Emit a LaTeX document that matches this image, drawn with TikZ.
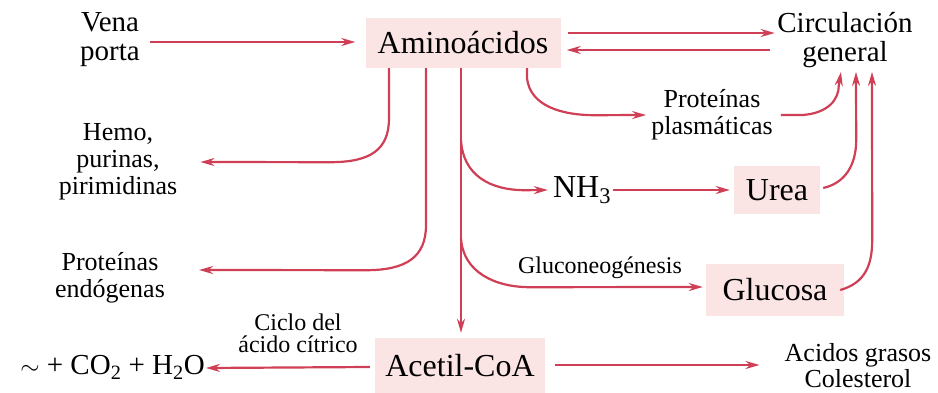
\documentclass[tikz,border=0pt]{standalone}
\usepackage{fontspec}
\setmainfont{Liberation Serif}
\usetikzlibrary{arrows.meta,calc}
\definecolor{arrred}{HTML}{CF3F55}
\definecolor{boxpink}{HTML}{FAE4E4}
\tikzset{
  arr/.style={draw=arrred, line width=2.2pt, -{Stealth[length=14pt,width=8pt]}},
  boxf/.style={font=\fontsize{32}{34}\selectfont, align=center, inner sep=0pt},
  bigf/.style={font=\fontsize{29}{29}\selectfont, align=center, inner sep=0pt},
  smallf/.style={font=\fontsize{26}{27}\selectfont, align=center, inner sep=0pt},
  tinyf/.style={font=\fontsize{24}{22}\selectfont, align=center, inner sep=0pt},
  pbox/.style={boxf, fill=boxpink},
}
\begin{document}
\begin{tikzpicture}[x=1pt,y=-1pt]
\useasboundingbox (0,0) rectangle (938,393);
% nodes
\node[bigf] (vena) at (110,40) {Vena\\porta};
\node[pbox, minimum width=195pt, minimum height=50pt] (amino) at (463,43) {Aminoácidos};
\node[bigf] (circ) at (845,40) {Circulación\\general};
\node[smallf] (protp) at (712,115) {Proteínas\\plasmáticas};
\node[smallf] (hemo) at (118,162) {Hemo,\\purinas,\\pirimidinas};
\node[smallf] (prote) at (110,278) {Proteínas\\endógenas};
\node[boxf] (nh3) at (582,190) {NH\textsubscript{3}};
\node[pbox, minimum width=86pt, minimum height=48pt] (urea) at (777,190) {Urea};
\node[pbox, minimum width=138pt, minimum height=52pt] (gluc) at (775,290) {Glucosa};
\node[tinyf] (glabel) at (600,268) {Gluconeogénesis};
\node[pbox, minimum width=170pt, minimum height=56pt] (acetil) at (460,366) {Acetil-CoA};
\node[tinyf] (ciclo) at (298,333) {Ciclo del\\ácido cítrico};
\node[bigf, anchor=east] (co2) at (205,367) {$\sim$ + CO\textsubscript{2} + H\textsubscript{2}O};
\node[smallf, font=\fontsize{26}{26}\selectfont] (acidos) at (858,366) {Acidos grasos\\Colesterol};
% connectors
\draw[arr] ($(vena.east)+(10,2)$) -- ($(amino.west)+(-10,-1)$);
\draw[arr] ($(amino.east)+(7,-10)$) -- ++(207,0);
\draw[arr] ($(amino.east)+(209,7)$) -- ($(amino.east)+(6,7)$);
% to hemo, proteinas endogenas
\draw[arr] ($(amino.south)+(-74,0)$) -- ++(0,50) .. controls +(0,32) and +(40,0) .. ++(-59,44) -- ($(hemo.east)+(23,0)$);
\draw[arr] ($(amino.south)+(-37,0)$) -- ++(0,157) .. controls +(0,32) and +(40,0) .. ++(-60,45) -- ($(prote.east)+(34,-8)$);
% central
\draw[arr] ($(amino.south)+(-2,0)$) -- ($(acetil.north)+(1,-5)$);
\draw[arr] ($(amino.south)+(-2,72)$) .. controls +(2,35) and +(-35,0) .. ++(64,50) -- ($(nh3.west)+(-5,0)$);
\draw[arr] ($(amino.south)+(-2,170)$) .. controls +(2,34) and +(-35,0) .. ++(69,49) -- ($(gluc.west)+(-3,-3)$);
% to proteinas plasmaticas
\draw[arr] ($(amino.south)+(64,0)$) -- ++(0,10) .. controls +(3,27) and +(-35,0) .. ++(68,37) -- ($(protp.west)+(-5,0)$);
% to circulacion
\draw[arr] ($(protp.east)+(8,0)$) -- ++(22,0) .. controls +(25,-2) and +(0,15) .. ++(36,-30) -- ($(circ.south)+(-4,4)$);
\draw[arr] ($(urea.east)+(3,-2)$) .. controls +(22,-5) and +(0,25) .. ++(33,-48) -- ($(circ.south)+(11,4)$);
\draw[arr] ($(gluc.east)+(-4,0)$) .. controls +(25,-7) and +(0,25) .. ++(32,-50) -- ($(circ.south)+(27,4)$);
% NH3 -> urea
\draw[arr] ($(nh3.east)+(2,0)$) -- ($(urea.west)+(-4,0)$);
% acetil
\draw[arr] ($(acetil.west)+(-5,1)$) -- ($(co2.east)+(1,1)$);
\draw[arr] ($(acetil.east)+(10,-1)$) -- ($(acidos.west)+(-25,-1)$);
\end{tikzpicture}
\end{document}
